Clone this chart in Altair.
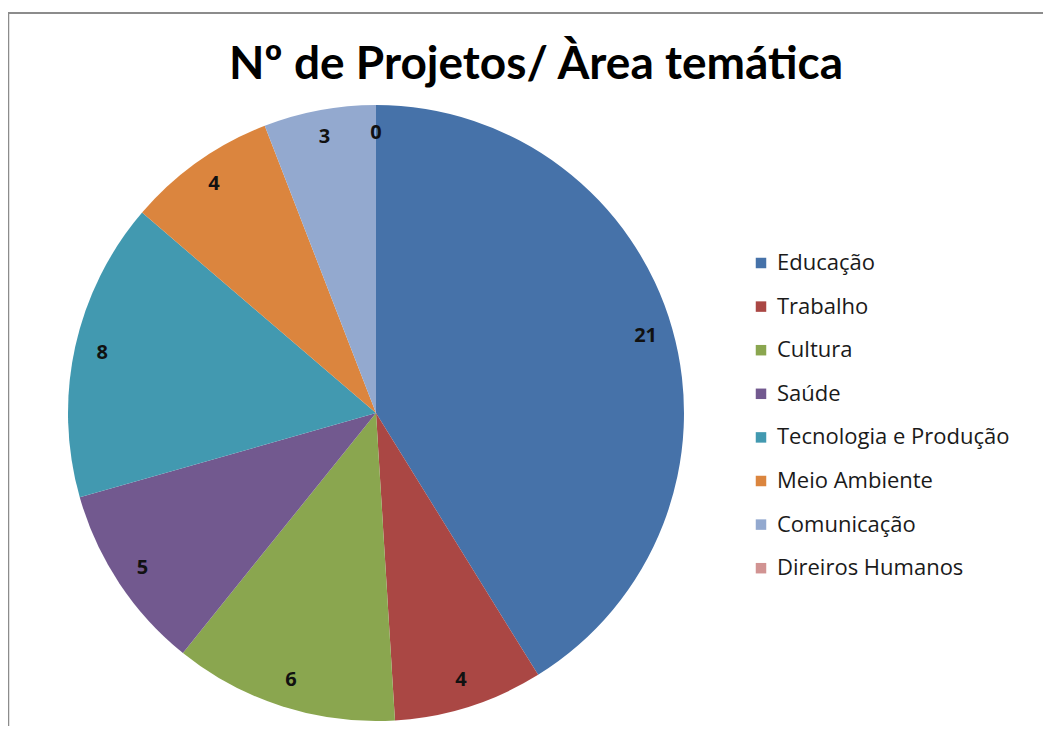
import altair as alt
import pandas as pd

categories = ["Educação", "Trabalho", "Cultura", "Saúde", "Tecnologia e Produção",
              "Meio Ambiente", "Comunicação", "Direiros Humanos"]
values = [21, 4, 6, 5, 8, 4, 3, 0]
colors = ["#4672A9", "#AA4744", "#8AA64F", "#72598F", "#4299B0", "#DB853E", "#93A9CF", "#D19392"]
title_text = "Nº de Projetos/ Àrea temática"

df = pd.DataFrame({"cat": categories, "val": values, "order": list(range(len(values)))})

CX, CY, R = 368, 405, 308

color = alt.Color(
    "cat:N",
    scale=alt.Scale(domain=categories, range=colors),
    sort=categories,
    legend=alt.Legend(
        title=None, orient="none", legendX=742, legendY=244,
        symbolType="square", symbolSize=110, symbolStrokeWidth=0,
        labelFont="Open Sans", labelFontSize=22, labelColor="#1a1a1a",
        rowPadding=21.6, labelOffset=5, labelLimit=400,
    ),
)

base = alt.Chart(df).encode(
    theta=alt.Theta("val:Q", stack=True),
    order=alt.Order("order:Q", sort="ascending"),
)

pie = base.mark_arc(radius=R).encode(
    color=color,
    x=alt.value(CX), y=alt.value(CY),
)

labels = base.mark_text(
    radius=R * 0.91, font="Open Sans", fontWeight="bold", fontSize=20, color="#111111"
).encode(
    text="val:Q",
    x=alt.value(CX), y=alt.value(CY),
)

title = alt.Chart(pd.DataFrame({"t": [title_text]})).mark_text(
    font="Lato", fontWeight="bold", fontSize=46, color="#000000", baseline="middle", align="center"
).encode(text="t:N", x=alt.value(528), y=alt.value(57))

frame_top = alt.Chart(pd.DataFrame({"a": [0]})).mark_rule(color="#8c8c8c", strokeWidth=2).encode(
    x=alt.value(0), x2=alt.value(1043), y=alt.value(5)
)
frame_left = alt.Chart(pd.DataFrame({"a": [0]})).mark_rule(color="#8c8c8c", strokeWidth=1.5).encode(
    x=alt.value(0.5), y=alt.value(5), y2=alt.value(726)
)

chart = alt.layer(frame_top, frame_left, pie, labels, title).properties(
    width=1035, height=718,
    autosize=alt.AutoSizeParams(type="none"),
    padding=0,
).configure_view(stroke=None)

chart.save("out.html", embed_options={"renderer": "svg", "actions": False})
